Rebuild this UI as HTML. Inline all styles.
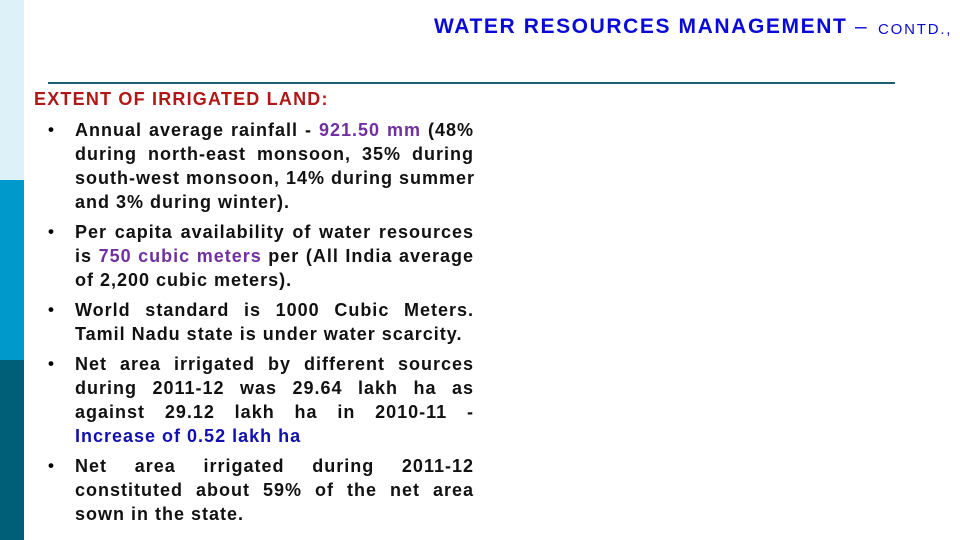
<!DOCTYPE html>
<html><head><meta charset="utf-8"><style>
body{margin:0;width:960px;height:540px;position:relative;background:#fff;overflow:hidden;font-family:"Liberation Sans",Arial,sans-serif}
.side{position:absolute;left:0;width:24px}
.title{position:absolute;left:434px;top:15px;color:#0a0ad8;font-size:21px;font-weight:bold;letter-spacing:1.6px;white-space:nowrap}
.dash{position:absolute;left:855px;top:15px;color:#0a0ad8;font-size:21px;white-space:nowrap}
.contd{position:absolute;left:878px;top:21px;color:#0a0ad8;font-size:15px;letter-spacing:1.8px;white-space:nowrap}
.rule{position:absolute;left:48px;top:82px;width:847px;height:2px;background:#1d5e73}
.head{position:absolute;left:34px;top:89px;color:#b01818;font-weight:bold;font-size:18px;letter-spacing:1.2px;white-space:nowrap}
.list{position:absolute;left:48px;top:118px;width:426px}
.item{position:relative;padding-left:27px;margin-bottom:6px}
.item::before{content:"•";position:absolute;left:0;top:0;font-size:17px;line-height:24px;font-weight:bold}
.ln{font-weight:bold;font-size:18px;letter-spacing:1px;line-height:24px;height:24px;text-align:justify;text-align-last:justify;white-space:nowrap;color:#111}
.ln.last{text-align-last:left}
.p{color:#7030a0}.b{color:#1010b0}
</style></head><body>
<div class="side" style="top:0;height:180px;background:#dcf2f8"></div>
<div class="side" style="top:180px;height:180px;background:#0099cc"></div>
<div class="side" style="top:360px;height:180px;background:#005f78"></div>
<div class="title">WATER RESOURCES MANAGEMENT</div>
<div class="dash">–</div>
<div class="contd">CONTD.,</div>
<div class="rule"></div>
<div class="head">EXTENT OF IRRIGATED LAND:</div>
<div class="list">
<div class="item">
<div class="ln">Annual average rainfall - <span class="p">921.50 mm</span> (48%</div>
<div class="ln">during north-east monsoon, 35% during</div>
<div class="ln">south-west monsoon, 14% during summer</div>
<div class="ln last">and 3% during winter).</div></div>
<div class="item">
<div class="ln">Per capita availability of water resources</div>
<div class="ln">is <span class="p">750 cubic meters</span> per (All India average</div>
<div class="ln last">of 2,200 cubic meters).</div></div>
<div class="item">
<div class="ln">World standard is 1000 Cubic Meters.</div>
<div class="ln last">Tamil Nadu state is under water scarcity.</div></div>
<div class="item">
<div class="ln">Net area irrigated by different sources</div>
<div class="ln">during 2011-12 was 29.64 lakh ha as</div>
<div class="ln">against 29.12 lakh ha in 2010-11 -</div>
<div class="ln last b">Increase of 0.52 lakh ha</div></div>
<div class="item">
<div class="ln">Net area irrigated during 2011-12</div>
<div class="ln">constituted about 59% of the net area</div>
<div class="ln last">sown in the state.</div></div>
</div>
</body></html>
